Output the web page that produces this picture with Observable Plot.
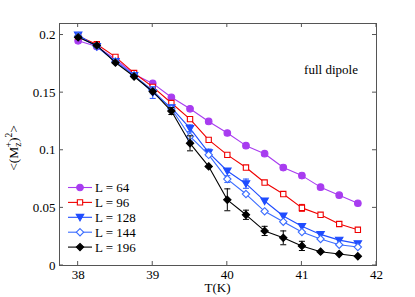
<!DOCTYPE html>
<html>
<head>
<meta charset="utf-8">
<script src="https://cdn.jsdelivr.net/npm/d3@7"></script>
<script src="https://cdn.jsdelivr.net/npm/@observablehq/plot@0.6"></script>
<style>
  html, body { margin: 0; padding: 0; background: #fff; }
  #chart svg { display: block; }
  #chart svg text { font-family: 'Liberation Serif', 'Times New Roman', serif !important; }
</style>
</head>
<body>
<div id="chart"></div>
<script>
const T = [38, 38.25, 38.5, 38.75, 39, 39.25, 39.5, 39.75, 40, 40.25, 40.5, 40.75, 41, 41.25, 41.5, 41.75];
const labels = ["L = 64", "L = 96", "L = 128", "L = 144", "L = 196"];
const L64  = [0.195, 0.190, 0.179, 0.166, 0.158, 0.146, 0.136, 0.125, 0.115, 0.104, 0.097, 0.085, 0.078, 0.068, 0.061, 0.054];
const L96  = [0.199, 0.192, 0.181, 0.167, 0.155, 0.141, 0.127, 0.109, 0.096, 0.085, 0.072, 0.062, 0.050, 0.044, 0.036, 0.031];
const L128 = [0.200, 0.190, 0.177, 0.165, 0.150, 0.137, 0.119, 0.098, 0.082, 0.071, 0.056, 0.043, 0.034, 0.027, 0.022, 0.019];
const L144 = [0.199, 0.190, 0.177, 0.165, 0.152, 0.136, 0.112, 0.096, 0.075, 0.062, 0.047, 0.038, 0.029, 0.023, 0.018, 0.016];
const L196 = [0.198, 0.191, 0.176, 0.164, 0.151, 0.134, 0.106, 0.086, 0.057, 0.044, 0.030, 0.024, 0.017, 0.012, 0.010, 0.008];
const E64  = [0, 0, 0, 0, 0, 0, 0, 0, 0, 0, 0, 0.002, 0.002, 0, 0, 0];
const E96  = [0, 0, 0, 0, 0, 0, 0, 0, 0, 0, 0, 0, 0.003, 0, 0.002, 0];
const E128 = [0, 0, 0, 0, 0.005, 0, 0.003, 0.003, 0, 0.004, 0, 0, 0, 0, 0, 0];
const E144 = [0, 0, 0, 0, 0.003, 0, 0.004, 0, 0.003, 0, 0, 0, 0, 0, 0, 0];
const E196 = [0, 0, 0, 0, 0, 0.003, 0.0065, 0, 0.0095, 0.004, 0.004, 0.006, 0.004, 0, 0, 0];
const xTicks = [38, 39, 40, 41, 42];
const yTicks = [0, 0.05, 0.1, 0.15, 0.2];
const annotation = "full dipole";
const annX = 41.39, annY = 0.1695;

const font = "'Liberation Serif', 'Times New Roman', serif";
const colors = ["#a83cf0", "#f00000", "#1f4cff", "#3a6cff", "#000000"];
const triDown = {draw(ctx, size) { const h = Math.sqrt(size) * 0.58; ctx.moveTo(-h * 1.1, -h * 0.85); ctx.lineTo(h * 1.1, -h * 0.85); ctx.lineTo(0, h * 1.05); ctx.closePath(); }};
const hline = {draw(ctx, size) { const w = Math.sqrt(size) / 2; ctx.moveTo(-w, 0); ctx.lineTo(w, 0); }};
const symbols = ["circle", "square", triDown, "diamond2", "diamond2"];
const filled = [true, false, true, false, true];
const radii = [3.3, 3.0, 3.3, 3.3, 3.3];

const seriesVals = [L64, L96, L128, L144, L196];
const seriesErr = [E64, E96, E128, E144, E196];
const rows = [];
seriesVals.forEach((vals, s) => vals.forEach((v, i) => rows.push({s, L: labels[s], T: T[i], v, e: seriesErr[s][i]})));
const errRows = rows.filter(d => d.e > 0);

const marks = [];
for (let s = 0; s < 5; s++) {
  const data = rows.filter(d => d.s === s);
  const errs = errRows.filter(d => d.s === s);
  marks.push(Plot.line(data, {x: "T", y: "v", stroke: colors[s], strokeWidth: 1.1}));
  marks.push(Plot.ruleX(errs, {x: "T", y1: d => d.v - d.e, y2: d => d.v + d.e, stroke: colors[s], strokeWidth: 1}));
  marks.push(Plot.dot(errs, {x: "T", y: d => d.v - d.e, symbol: hline, r: 3.4, stroke: colors[s], strokeWidth: 1}));
  marks.push(Plot.dot(errs, {x: "T", y: d => d.v + d.e, symbol: hline, r: 3.4, stroke: colors[s], strokeWidth: 1}));
  marks.push(Plot.dot(data, {x: "T", y: "v", symbol: symbols[s], r: radii[s],
    fill: filled[s] ? colors[s] : "white", stroke: colors[s], strokeWidth: 1.1}));
}

const plot = Plot.plot({
  width: 415, height: 297,
  marginLeft: 59, marginRight: 39, marginTop: 23, marginBottom: 32,
  style: `font-family: ${font}; font-size: 13px; background: #fff; color: #000;`,
  x: {domain: [37.75, 42]},
  y: {domain: [0, 0.21]},
  marks: [
    Plot.axisX({ticks: xTicks, tickSize: 0, tickPadding: 4, label: null, tickFormat: d => String(d), fontSize: 13}),
    Plot.axisY({ticks: yTicks, tickSize: 0, tickPadding: 4, label: null, tickFormat: d => String(+d.toFixed(2)), fontSize: 13}),
    ...marks,
    Plot.text([annotation], {x: () => annX, y: () => annY, text: d => d, fontSize: 13, textAnchor: "middle", fill: "#000"}),
    Plot.frame({stroke: "#555", strokeWidth: 1})
  ]
});
document.getElementById("chart").appendChild(plot);

const svg = d3.select(plot).attr("font-family", font);
const xs = plot.scale("x"), ys = plot.scale("y");
const x0 = xs.apply(37.75), x1 = xs.apply(42), y0 = ys.apply(0), y1 = ys.apply(0.21);
const tg = svg.append("g").attr("stroke", "#555").attr("stroke-width", 1);
xTicks.forEach(t => {
  const px = xs.apply(t);
  tg.append("line").attr("x1", px).attr("x2", px).attr("y1", y0).attr("y2", y0 - 4);
  tg.append("line").attr("x1", px).attr("x2", px).attr("y1", y1).attr("y2", y1 + 4);
});
yTicks.forEach(t => {
  const py = ys.apply(t);
  tg.append("line").attr("x1", x0).attr("x2", x0 + 4).attr("y1", py).attr("y2", py);
  tg.append("line").attr("x1", x1).attr("x2", x1 - 4).attr("y1", py).attr("y2", py);
});

// x label
svg.append("text").attr("x", (x0 + x1) / 2).attr("y", 292).attr("text-anchor", "middle")
  .attr("font-family", font).attr("font-size", 13).attr("fill", "#000").text("T(K)");
// y label
const yl = svg.append("text").attr("transform", `translate(17.5,148) rotate(-90)`)
  .attr("text-anchor", "middle").attr("font-family", font).attr("font-size", 13.5).attr("fill", "#000");
yl.append("tspan").text("<(M");
yl.append("tspan").attr("font-size", 9.5).attr("dy", 3).text("z");
yl.append("tspan").attr("font-size", 9.5).attr("dy", -9).attr("dx", -5).text("+");
yl.append("tspan").attr("dy", 6).text(")");
yl.append("tspan").attr("font-size", 9.5).attr("dy", -6).text("2");
yl.append("tspan").attr("dy", 6).text(">");

// legend
const lg = svg.append("g");
labels.forEach((lab, s) => {
  const ly = 187.5 + s * 14.9;
  lg.append("line").attr("x1", 68).attr("x2", 92).attr("y1", ly).attr("y2", ly).attr("stroke", colors[s]).attr("stroke-width", 1.1);
  const sym = typeof symbols[s] === "string" ? ({circle: d3.symbolCircle, square: d3.symbolSquare, diamond2: d3.symbolDiamond2})[symbols[s]] : symbols[s];
  lg.append("path").attr("transform", `translate(80,${ly})`)
    .attr("d", d3.symbol(sym, radii[s] * radii[s] * Math.PI)())
    .attr("fill", filled[s] ? colors[s] : "white").attr("stroke", colors[s]).attr("stroke-width", 1.1);
  lg.append("text").attr("x", 95).attr("y", ly + 4.5).attr("text-anchor", "start")
    .attr("font-family", font).attr("font-size", 13).attr("fill", "#000").text(lab);
});
</script>
</body>
</html>
